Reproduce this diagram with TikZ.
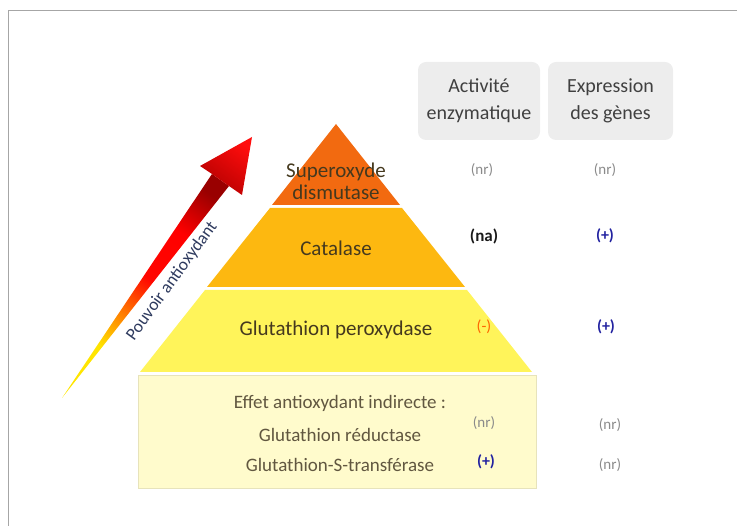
\documentclass[tikz,border=0pt]{standalone}
\usepackage{fontspec}
\setmainfont{Carlito}
\usetikzlibrary{positioning}

\definecolor{sodfill}{HTML}{F26A10}
\definecolor{catfill}{HTML}{FDB810}
\definecolor{gpxfill}{HTML}{FFF45A}
\definecolor{indfill}{HTML}{FFFBCC}
\definecolor{layertext}{HTML}{45391E}
\definecolor{plusblue}{HTML}{2222A0}
\definecolor{nrgray}{HTML}{8A8A8A}
\definecolor{arrowtext}{HTML}{2E3A5E}

\pgfdeclareverticalshading{pouvoirshade}{100bp}{
  color(0bp)=(yellow!80!orange); color(31bp)=(yellow!80!orange);
  color(42bp)=(orange!90!red); color(52bp)=(red!95!orange);
  color(66bp)=(red); color(78bp)=(red!60!black); color(100bp)=(red!60!black)}

\tikzset{
  layerlabel/.style={text=layertext, font=\fontsize{21}{22}\selectfont, align=center},
  indlabel/.style={text=layertext!85, font=\fontsize{19}{20}\selectfont},
  headbox/.style={fill=black!7, rounded corners=8pt, minimum width=122pt, minimum height=78pt,
    text=black!75, align=center, font=\fontsize{20}{27}\selectfont},
  nr/.style={text=nrgray, font=\fontsize{15}{18}\selectfont},
  plus/.style={text=plusblue, font=\fontsize{16}{18}\selectfont\bfseries},
}

\begin{document}
\begin{tikzpicture}[x=1pt, y=-1pt]
    \useasboundingbox (0,0) rectangle (737,526);
    \draw [black!35, line width=1pt] (8,526) -- (8,11) -- (737,11);

    % Arrow
    \shade [shading=pouvoirshade, shading angle=-36]
      (62,398) -- (212,174) -- (229,186) -- cycle;
    \shade [left color=red!95!white, right color=red!70!black, shading angle=-36]
      (212,174) -- (200,166) -- (252,137) -- (242,195) -- (229,186) -- cycle;
    \node (pouvoir) [rotate=54, text=arrowtext, font=\fontsize{17.5}{20}\selectfont] at (172,281) {Pouvoir antioxydant};

    % Pyramid
    \fill [sodfill] (336,124) -- (400,205) -- (272,205) -- cycle;
    \fill [catfill] (270,208) -- (402,208) -- (465,287) -- (207,287) -- cycle;
    \fill [gpxfill] (205,290) -- (467,290) -- (532,372) -- (140,372) -- cycle;
    \fill [indfill, draw=indfill!90!black!95] (138,375) rectangle (536,488);

    \node (sod) [layerlabel] at (336,181) {Superoxyde\\dismutase};
    \node (cat) [layerlabel] at (336,248) {Catalase};
    \node (gpx) [layerlabel] at (336,330) {Glutathion peroxydase};
    \node (ind) [indlabel] at (340,403) {Effet antioxydant indirecte :};
    \node (gr) [indlabel] at (340,435) {Glutathion réductase};
    \node (gst) [indlabel] at (340,465) {Glutathion-S-transférase};

    % Headers
    \node (hact) [headbox] at (479,101) {Activité\\enzymatique};
    \node (hexp) [headbox, minimum width=125pt] at (610.5,101) {Expression\\des gènes};

    % Values
    \node (sodact) [nr] at (482,170) {(nr)};
    \node (sodexp) [nr] at (605,170) {(nr)};
    \node (catact) [font=\fontsize{17}{18}\selectfont\bfseries, text=black!90] at (484,236) {(na)};
    \node (catexp) [plus] at (605,236) {(+)};
    \node (gpxact) [font=\fontsize{16}{18}\selectfont, text=orange!80!red] at (484,327) {(-)};
    \node (gpxexp) [plus] at (606,327) {(+)};
    \node (gract) [nr] at (484,423) {(nr)};
    \node (grexp) [nr] at (610,425) {(nr)};
    \node (gstact) [plus] at (486,462) {(+)};
    \node (gstexp) [nr] at (610,465) {(nr)};
\end{tikzpicture}
\end{document}
